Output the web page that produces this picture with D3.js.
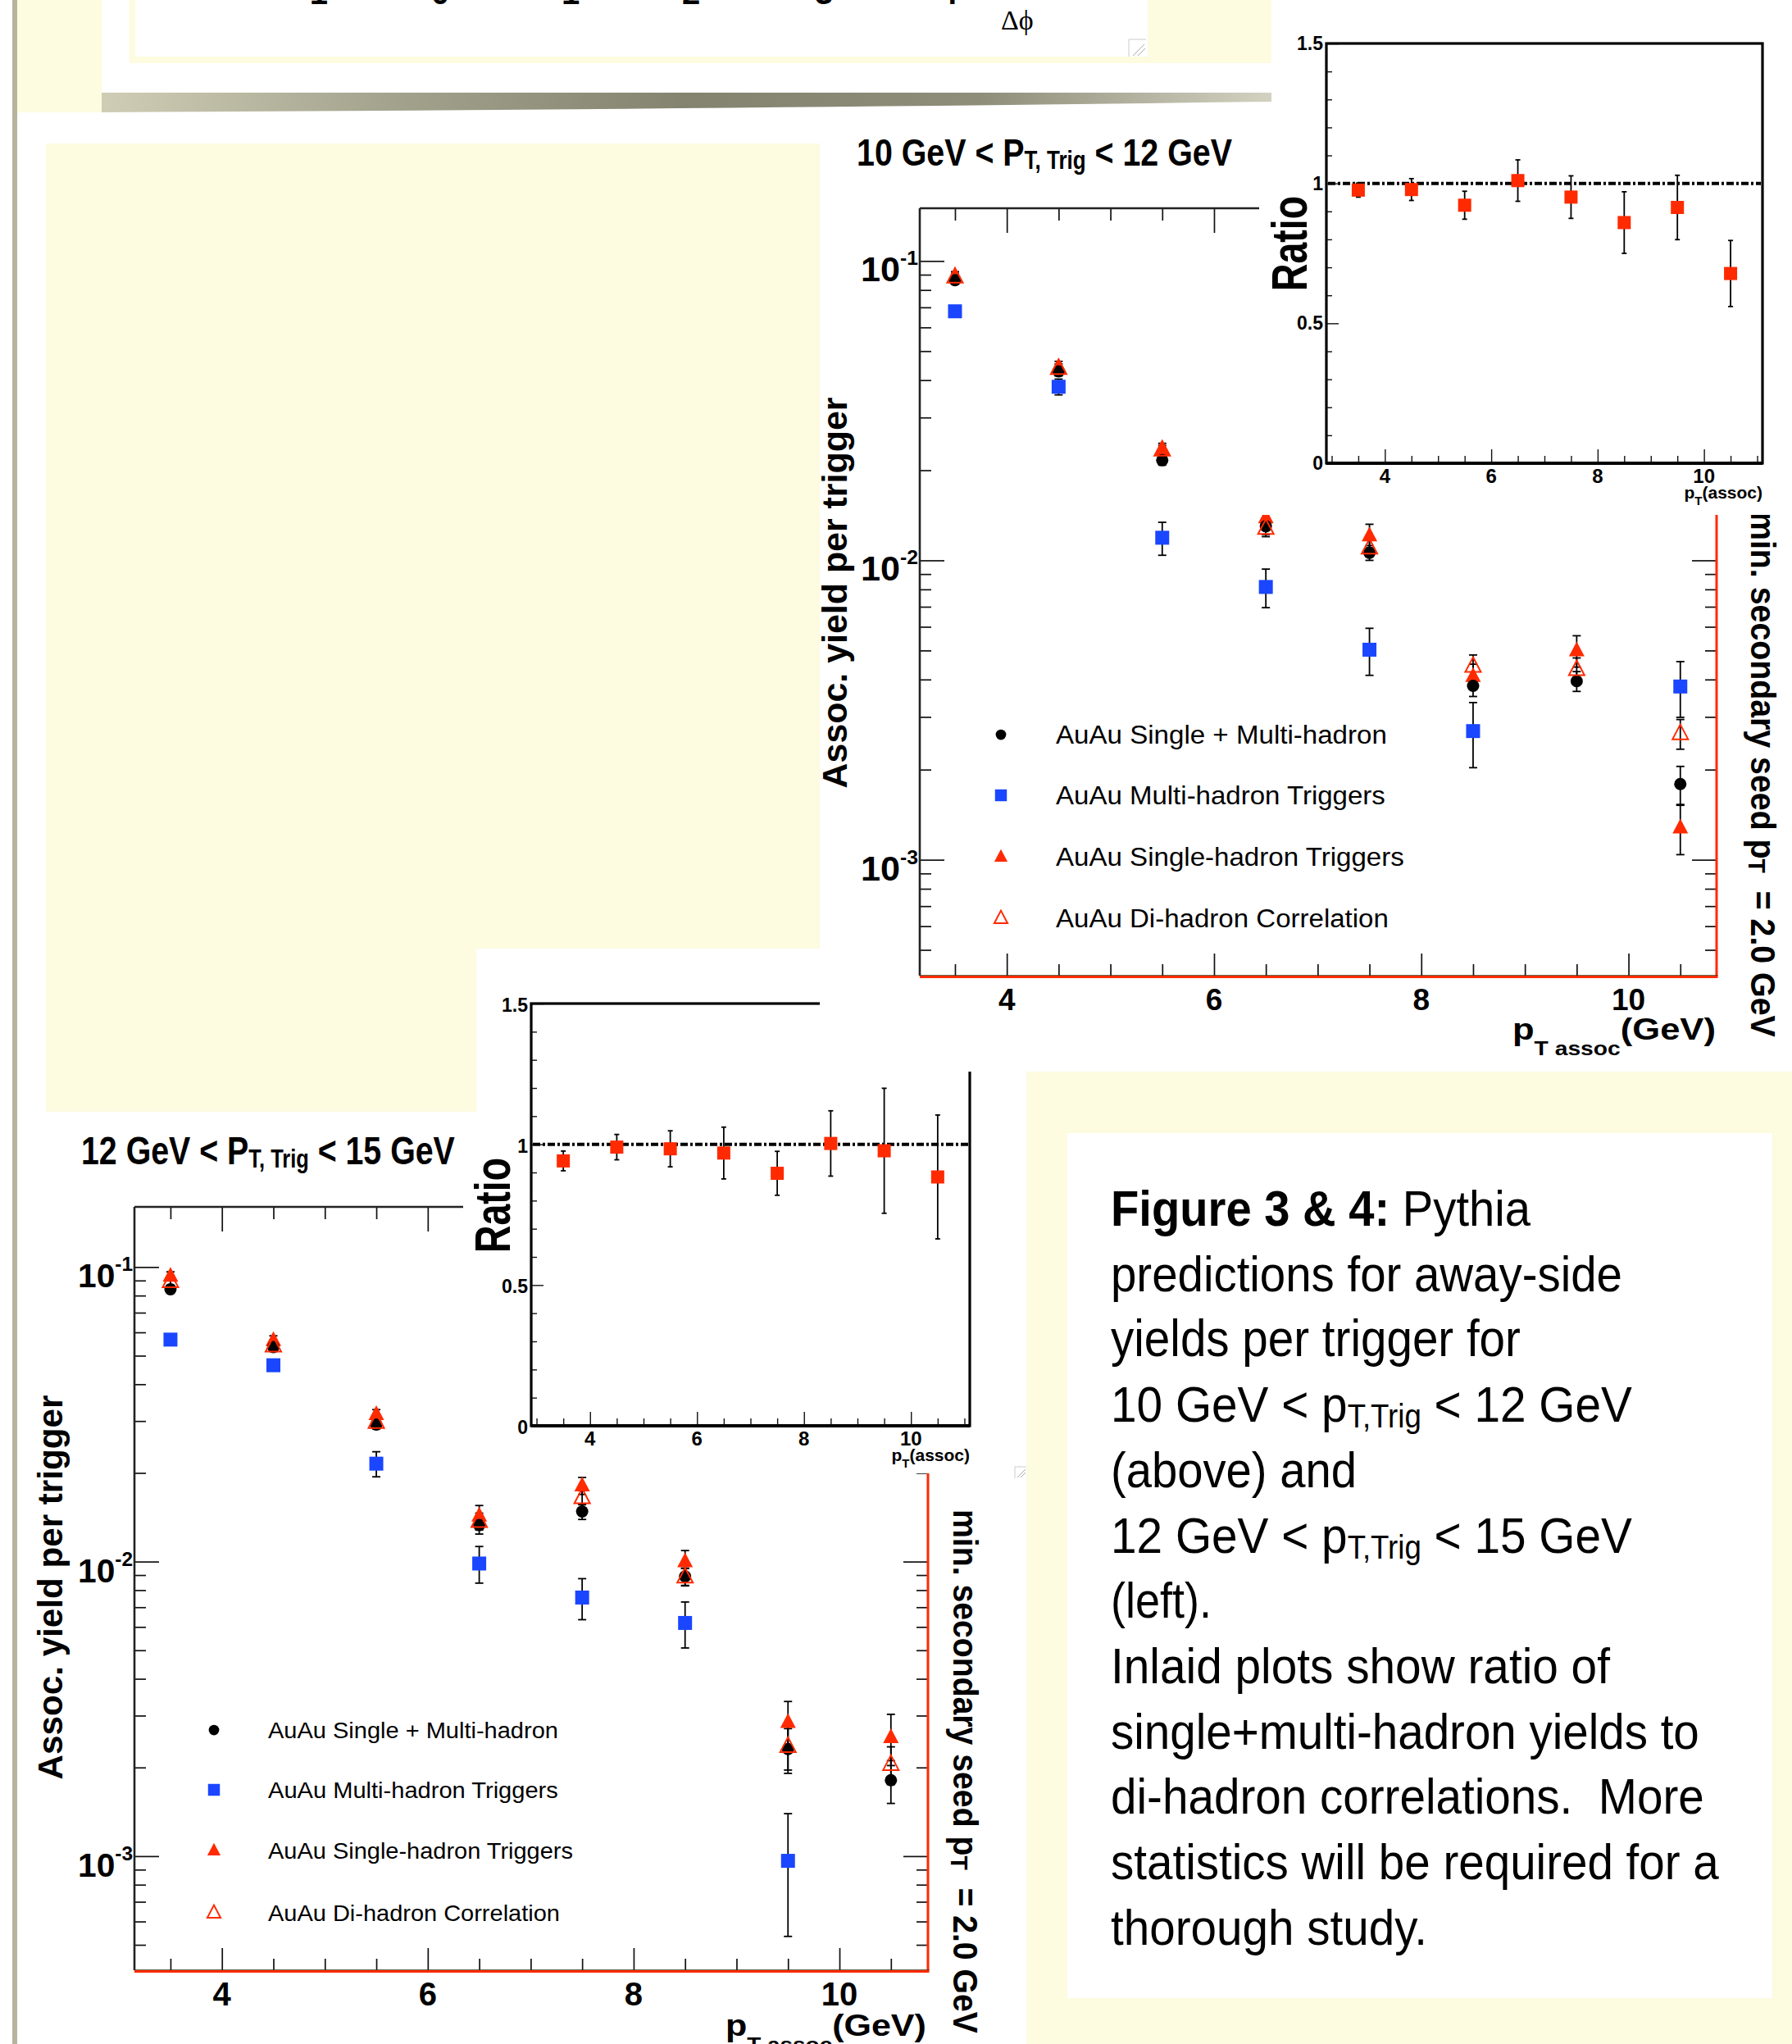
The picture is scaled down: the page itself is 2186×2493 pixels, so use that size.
<!DOCTYPE html>
<html><head><meta charset="utf-8">
<script src="https://cdn.jsdelivr.net/npm/d3@7"></script>
<style>body{margin:0;background:#fff} svg{display:block} text{white-space:pre}</style>
</head><body>
<svg id="c" width="2186" height="2493"></svg>
<script>
// ---------------- DATA ----------------
const ptAssoc = [3.5, 4.5, 5.5, 6.5, 7.5, 8.5, 9.5, 10.5];

// 10 GeV < pT,Trig < 12 GeV
const smYield10     = [0.0863, 0.0428, 0.0216, 0.0130, 0.0106, 0.00381, 0.00395, 0.00179];
const smErr10       = [0.0025, 0.0015, 0.0008, 0.0008, 0.0006, 0.0003, 0.0003, 0.00026];
const multiYield10  = [0.0679, 0.0380, 0.0119, 0.00815, 0.00503, 0.00269, null, 0.00379];
const multiErr10    = [0.0015, 0.0023, 0.0015, 0.0012, 0.0009, 0.00066, null, 0.0008];
const singleYield10 = [0.0891, 0.0442, 0.0235, 0.0139, 0.0121, 0.0041, 0.0050, 0.00128];
const singleErr10   = [0.003, 0.002, 0.0011, 0.0012, 0.0011, 0.0004, 0.0006, 0.00024];
const diYield10     = [0.0884, 0.0438, 0.0234, 0.0128, 0.0110, 0.00443, 0.00432, 0.00264];
const diErr10       = [0.0025, 0.0015, 0.0008, 0.0008, 0.0007, 0.0004, 0.0004, 0.0003];
const ratio10       = [0.976, 0.978, 0.922, 1.010, 0.951, 0.860, 0.914, 0.678];
const ratioErr10    = [0.025, 0.039, 0.050, 0.074, 0.076, 0.110, 0.115, 0.118];

// 12 GeV < pT,Trig < 15 GeV
const smYield12     = [0.0840, 0.0535, 0.0292, 0.0133, 0.0148, 0.0089, 0.00231, 0.00181];
const smErr12       = [0.0025, 0.0018, 0.0010, 0.0009, 0.0009, 0.0006, 0.0004, 0.0003];
const multiYield12  = [0.0567, 0.0464, 0.0215, 0.00985, 0.00755, 0.00619, 0.000964, null];
const multiErr12    = [0.0018, 0.0018, 0.0021, 0.0014, 0.0012, 0.0011, 0.00043, null];
const singleYield12 = [0.0933, 0.0564, 0.0316, 0.0143, 0.0181, 0.0100, 0.00285, 0.00253];
const singleErr12   = [0.003, 0.002, 0.0012, 0.0012, 0.0012, 0.0009, 0.0005, 0.0005];
const diYield12     = [0.0893, 0.0540, 0.0297, 0.0137, 0.0165, 0.00887, 0.00236, 0.00205];
const diErr12       = [0.0025, 0.0018, 0.0010, 0.0009, 0.0009, 0.0006, 0.0004, 0.0003];
const ratio12       = [0.941, 0.990, 0.984, 0.969, 0.897, 1.003, 0.977, 0.884];
const ratioErr12    = [0.035, 0.045, 0.064, 0.092, 0.078, 0.116, 0.222, 0.220];

const legendLabels = ['AuAu Single + Multi-hadron', 'AuAu Multi-hadron Triggers',
                      'AuAu Single-hadron Triggers', 'AuAu Di-hadron Correlation'];
const xTickValues = [4, 6, 8, 10];
const xTickLabels = ['4', '6', '8', '10'];
const yDecades = [1e-3, 1e-2, 1e-1];
const yDecadeExps = ['-3', '-2', '-1'];
const ratioTicks = [0, 0.5, 1, 1.5];
const ratioTickLabels = ['0', '0.5', '1', '1.5'];
const topAxisDigits = ['-1', '0', '1', '2', '3', '4'];

const captionLines = [
  [{t: 'Figure 3 & 4:', weight: 'bold'}, {t: ' Pythia', weight: 'normal'}],
  [{t: 'predictions for away-side'}],
  [{t: 'yields per trigger for'}],
  [{t: '10 GeV < p'}, {t: 'T,Trig', sub: true}, {t: ' < 12 GeV', unsub: true}],
  [{t: '(above) and'}],
  [{t: '12 GeV < p'}, {t: 'T,Trig', sub: true}, {t: ' < 15 GeV', unsub: true}],
  [{t: '(left).'}],
  [{t: 'Inlaid plots show ratio of'}],
  [{t: 'single+multi-hadron yields to'}],
  [{t: 'di-hadron correlations.  More'}],
  [{t: 'statistics will be required for a'}],
  [{t: 'thorough study.'}]
];

// ---------------- STYLE ----------------
const SANS = "'Liberation Sans', Arial, Helvetica, sans-serif";
const NARROW = "'Liberation Sans Narrow', 'Arial Narrow', 'Liberation Sans', Arial, sans-serif";
const SERIF = "'Liberation Serif', 'DejaVu Serif', serif";
const CREAM = '#fdfbe0';
const RED = '#ff2a00';
const BLUE = '#1a46ff';

const svg = d3.select('#c');
svg.append('rect').attr('width', 2186).attr('height', 2493).attr('fill', '#fff');

function txt(parent, o) {
  const g = parent.append('g').attr('transform', `translate(${o.x},${o.y}) rotate(${o.rot || 0})`);
  const t = g.append('text').attr('text-anchor', o.anchor || 'start')
    .attr('font-family', o.family || SANS).attr('font-size', o.size)
    .attr('font-weight', o.weight || 'bold').attr('fill', o.fill || '#000');
  const parts = typeof o.text === 'string' ? [{t: o.text}] : o.text;
  parts.forEach(p => {
    const s = t.append('tspan').text(p.t);
    if (p.size) s.attr('font-size', p.size);
    if (p.dy) s.attr('dy', p.dy);
    if (p.weight) s.attr('font-weight', p.weight);
    if (p.family) s.attr('font-family', p.family);
  });
  if (o.fit) {
    const w = t.node().getComputedTextLength();
    if (w > 0) t.attr('transform', `scale(${o.fit / w},1)`);
  }
  return t;
}

function marker(g, type, cx, cy, s) {
  s = s || 1;
  if (type === 'circle') {
    g.append('circle').attr('cx', cx).attr('cy', cy).attr('r', 7.5 * s).attr('fill', '#000');
  } else if (type === 'square') {
    g.append('rect').attr('x', cx - 8.5 * s).attr('y', cy - 8.5 * s).attr('width', 17 * s).attr('height', 17 * s).attr('fill', BLUE);
  } else if (type === 'tri') {
    g.append('path').attr('d', `M${cx},${cy - 11 * s}L${cx + 9.5 * s},${cy + 7 * s}L${cx - 9.5 * s},${cy + 7 * s}Z`).attr('fill', RED);
  } else if (type === 'otri') {
    g.append('path').attr('d', `M${cx},${cy - 11 * s}L${cx + 9.5 * s},${cy + 7 * s}L${cx - 9.5 * s},${cy + 7 * s}Z`)
      .attr('fill', 'none').attr('stroke', RED).attr('stroke-width', 2);
  }
}

function errBar(g, xp, ylo, yhi, cap) {
  g.append('line').attr('x1', xp).attr('x2', xp).attr('y1', ylo).attr('y2', yhi).attr('stroke', '#000').attr('stroke-width', 1.8);
  [ylo, yhi].forEach(yy => g.append('line').attr('x1', xp - cap).attr('x2', xp + cap).attr('y1', yy).attr('y2', yy)
    .attr('stroke', '#000').attr('stroke-width', 1.8));
}

const axisStyle = sel => {
  sel.select('.domain').remove();
  sel.selectAll('text').remove();
  sel.selectAll('line').attr('stroke', '#111').attr('stroke-width', 1.7);
};

// ---------------- MAIN PLOT ----------------
function drawMain(c) {
  const g = svg.append('g');
  const x = d3.scaleLinear().domain(c.xDomain).range(c.xRange);
  const y = d3.scaleLog().domain(c.yDomain).range(c.yRange);
  const [xl, xr] = c.xRange, [yb, yt] = c.yRange;
  const xMinor = d3.range(3.5, 11, 0.5).filter(v => v % 2 !== 0 && v > c.xDomain[0] && v < c.xDomain[1]);
  const yMinor = [];
  [-4, -3, -2, -1].forEach(e => d3.range(2, 10).forEach(k => {
    const v = k * Math.pow(10, e);
    if (v > c.yDomain[0] && v < c.yDomain[1]) yMinor.push(v);
  }));

  g.append('g').attr('transform', `translate(0,${yb})`).call(d3.axisBottom(x).tickValues(xTickValues).tickSize(-27).tickSizeOuter(0)).call(axisStyle);
  g.append('g').attr('transform', `translate(0,${yb})`).call(d3.axisBottom(x).tickValues(xMinor).tickSize(-14).tickSizeOuter(0)).call(axisStyle);
  g.append('g').attr('transform', `translate(0,${yt})`).call(d3.axisTop(x).tickValues(xTickValues.filter(v => x(v) < c.topEnd)).tickSize(-30).tickSizeOuter(0)).call(axisStyle);
  g.append('g').attr('transform', `translate(0,${yt})`).call(d3.axisTop(x).tickValues(xMinor.filter(v => x(v) < c.topEnd)).tickSize(-15).tickSizeOuter(0)).call(axisStyle);
  g.append('g').attr('transform', `translate(${xl},0)`).call(d3.axisLeft(y).tickValues(yDecades).tickSize(-30).tickSizeOuter(0)).call(axisStyle);
  g.append('g').attr('transform', `translate(${xl},0)`).call(d3.axisLeft(y).tickValues(yMinor).tickSize(-14).tickSizeOuter(0)).call(axisStyle);
  g.append('g').attr('transform', `translate(${xr},0)`).call(d3.axisRight(y).tickValues(yDecades).tickSize(-30).tickSizeOuter(0)).call(axisStyle);
  g.append('g').attr('transform', `translate(${xr},0)`).call(d3.axisRight(y).tickValues(yMinor).tickSize(-14).tickSizeOuter(0)).call(axisStyle);

  // frame
  g.append('line').attr('x1', xl).attr('x2', xl).attr('y1', yt).attr('y2', yb).attr('stroke', '#222').attr('stroke-width', 2.6);
  g.append('line').attr('x1', xl).attr('x2', c.topEnd).attr('y1', yt).attr('y2', yt).attr('stroke', '#222').attr('stroke-width', 2.6);
  g.append('line').attr('x1', xr).attr('x2', xr).attr('y1', yt).attr('y2', yb).attr('stroke', RED).attr('stroke-width', 3);
  g.append('line').attr('x1', xl).attr('x2', xr + 1.5).attr('y1', yb).attr('y2', yb).attr('stroke', '#331').attr('stroke-width', 1.5);
  g.append('line').attr('x1', xl).attr('x2', xr + 1.5).attr('y1', yb + 1.5).attr('y2', yb + 1.5).attr('stroke', RED).attr('stroke-width', 3.2);

  const series = [
    {type: 'square', v: c.multi, e: c.multiErr},
    {type: 'tri', v: c.single, e: c.singleErr},
    {type: 'circle', v: c.sm, e: c.smErr},
    {type: 'otri', v: c.di, e: c.diErr}
  ];
  const dg = g.append('g');
  series.forEach(s => s.v.forEach((v, i) => {
    if (v == null) return;
    const lo = Math.max(v - s.e[i], c.yDomain[0]);
    errBar(dg, x(ptAssoc[i]), y(lo), y(v + s.e[i]), 5);
  }));
  series.forEach(s => s.v.forEach((v, i) => {
    if (v == null) return;
    marker(dg, s.type, x(ptAssoc[i]), y(v));
  }));

  // tick labels
  xTickValues.forEach((v, i) => txt(g, {x: x(v), y: c.xTickBase, text: xTickLabels[i], anchor: 'middle', size: c.xTickSize}));
  yDecades.forEach((v, i) => txt(g, {x: xl - 2, y: y(v) + 25, anchor: 'end', size: c.yTickSize,
    text: [{t: '10'}, {t: yDecadeExps[i], size: 24, dy: -20}], fit: c.yTickW}));

  // titles / labels
  txt(g, {x: c.title.x, y: c.title.y, size: c.title.size, fit: c.title.w,
    text: [{t: c.title.a}, {t: 'T, Trig', size: c.title.sub, dy: 4}, {t: c.title.b, dy: -4}]});
  txt(g, {x: c.ylab.x, y: c.ylab.y, rot: -90, anchor: 'middle', size: c.ylab.size, fit: c.ylab.len,
    text: 'Assoc. yield per trigger'});
  txt(g, {x: c.xlab.x, y: c.xlab.y, size: c.xlab.size, fit: c.xlab.w,
    text: [{t: 'p'}, {t: 'T assoc', size: c.xlab.sub, dy: 19}, {t: '(GeV)', dy: -19}]});
  txt(g, {x: c.rlab.x, y: c.rlab.y, rot: 90, size: c.rlab.size, fit: c.rlab.len,
    text: [{t: 'min. secondary seed p'}, {t: 'T', size: c.rlab.size * 0.72, dy: 3}, {t: '  = 2.0 GeV', dy: -3}]});

  // legend
  const types = ['circle', 'square', 'tri', 'otri'];
  const lg = g.append('g');
  legendLabels.forEach((lab, i) => {
    const ry = c.legend.rows[i];
    marker(lg, types[i], c.legend.mx, ry, 0.85);
    txt(lg, {x: c.legend.tx, y: ry + c.legend.size * 0.36, text: lab, size: c.legend.size, weight: 'normal',
      family: NARROW, fit: c.legend.widths[i]});
  });
}

// ---------------- RATIO INSET ----------------
function drawRatio(c) {
  const g = svg.append('g');
  const x = d3.scaleLinear().domain([2.9, 11.1]).range(c.xRange);
  const y = d3.scaleLinear().domain([0, 1.5]).range(c.yRange);
  const [xl, xr] = c.xRange, [yb, yt] = c.yRange;
  const xMinor = d3.range(3, 11.01, 0.5).filter(v => xTickValues.indexOf(v) < 0);
  const yMinor = d3.range(1, 15).map(k => k / 10).filter(v => Math.abs(v * 2 - Math.round(v * 2)) > 1e-6);

  g.append('g').attr('transform', `translate(0,${yb})`).call(d3.axisBottom(x).tickValues(xTickValues).tickSize(-17).tickSizeOuter(0)).call(axisStyle);
  g.append('g').attr('transform', `translate(0,${yb})`).call(d3.axisBottom(x).tickValues(xMinor).tickSize(-9).tickSizeOuter(0)).call(axisStyle);
  g.append('g').attr('transform', `translate(${xl},0)`).call(d3.axisLeft(y).tickValues(ratioTicks).tickSize(-15).tickSizeOuter(0)).call(axisStyle);
  g.append('g').attr('transform', `translate(${xl},0)`).call(d3.axisLeft(y).tickValues(yMinor).tickSize(-7).tickSizeOuter(0)).call(axisStyle);
  g.selectAll('line').attr('stroke-width', 1.4);

  g.append('rect').attr('x', xl).attr('y', yt).attr('width', xr - xl).attr('height', yb - yt)
    .attr('fill', 'none').attr('stroke', '#000').attr('stroke-width', 3.2);
  g.append('line').attr('x1', xl).attr('x2', xr).attr('y1', yb).attr('y2', yb).attr('stroke', '#000').attr('stroke-width', 4.2);

  g.append('line').attr('x1', xl + 2).attr('x2', xr - 2).attr('y1', y(1)).attr('y2', y(1))
    .attr('stroke', '#000').attr('stroke-width', 4).attr('stroke-dasharray', '9,3,3,3');

  c.ratio.forEach((v, i) => errBar(g, x(ptAssoc[i]), y(v - c.err[i]), y(v + c.err[i]), 3));
  c.ratio.forEach((v, i) => g.append('rect').attr('x', x(ptAssoc[i]) - 8).attr('y', y(v) - 8)
    .attr('width', 16).attr('height', 16).attr('fill', RED));

  ratioTicks.forEach((v, i) => txt(g, {x: xl - 4, y: y(v) + c.yLabOff, anchor: 'end', size: 23, text: ratioTickLabels[i]}));
  xTickValues.forEach((v, i) => txt(g, {x: x(v), y: c.xLabBase, anchor: 'middle', size: 24, text: xTickLabels[i]}));
  txt(g, {x: xr, y: c.pBase, anchor: 'end', size: 21,
    text: [{t: 'p'}, {t: 'T', size: 15, dy: 8}, {t: '(assoc)', dy: -8}]});
  txt(g, {x: c.ratioLab.x, y: c.ratioLab.y, rot: -90, anchor: 'middle', size: 62, fit: 116, text: 'Ratio'});
}

// ---------------- BACKGROUND PIECES ----------------
svg.append('rect').attr('x', 15).attr('y', 0).attr('width', 6).attr('height', 2493).attr('fill', '#b7b39d');
svg.append('rect').attr('x', 21).attr('y', 0).attr('width', 103).attr('height', 137).attr('fill', CREAM);
// big cream panel
svg.append('rect').attr('x', 56).attr('y', 175).attr('width', 944).attr('height', 1181).attr('fill', CREAM);

// lower main plot (12-15 GeV)
drawMain({
  xDomain: [3.15, 10.86], xRange: [164, 1132], yDomain: [4.1e-4, 0.16], yRange: [2403, 1472],
  topEnd: 565,
  sm: smYield12, smErr: smErr12, multi: multiYield12, multiErr: multiErr12,
  single: singleYield12, singleErr: singleErr12, di: diYield12, diErr: diErr12,
  xTickSize: 40, xTickBase: 2446, yTickSize: 40, yTickW: 67,
  title: {x: 99, y: 1420, size: 48, sub: 31, w: 456, a: '12 GeV < P', b: ' < 15 GeV'},
  ylab: {x: 76, y: 1936, size: 42, len: 469},
  xlab: {x: 885, y: 2483, size: 37, sub: 24, w: 245},
  rlab: {x: 1163, y: 1841, size: 42, len: 639},
  legend: {mx: 261, tx: 327, rows: [2110, 2183, 2257, 2333], widths: [354, 354, 372, 356], size: 27}
});

// lower ratio inset
svg.append('rect').attr('x', 581).attr('y', 1157).attr('width', 669).attr('height', 640).attr('fill', '#fff');
drawRatio({xRange: [648, 1183], yRange: [1739, 1224], ratio: ratio12, err: ratioErr12,
  yLabOff: 10, xLabBase: 1763, pBase: 1782, ratioLab: {x: 622, y: 1470}});
// resize handle
svg.append('path').attr('d', 'M1238,1803L1238,1789L1252,1789').attr('fill', 'none').attr('stroke', '#ccc').attr('stroke-width', 1);
svg.append('path').attr('d', 'M1241,1802L1251,1792M1245,1802L1251,1796').attr('stroke', '#aaa').attr('stroke-width', 1);

// top-right main plot (10-12 GeV)
svg.append('rect').attr('x', 1000).attr('y', 140).attr('width', 1186).attr('height', 1167).attr('fill', '#fff');
drawMain({
  xDomain: [3.16, 10.85], xRange: [1122, 2094], yDomain: [4.1e-4, 0.15], yRange: [1190, 254],
  topEnd: 1536,
  sm: smYield10, smErr: smErr10, multi: multiYield10, multiErr: multiErr10,
  single: singleYield10, singleErr: singleErr10, di: diYield10, diErr: diErr10,
  xTickSize: 37, xTickBase: 1232, yTickSize: 42, yTickW: 70,
  title: {x: 1045, y: 202, size: 47, sub: 31, w: 458, a: '10 GeV < P', b: ' < 12 GeV'},
  ylab: {x: 1033, y: 723, size: 42, len: 477},
  xlab: {x: 1845, y: 1268, size: 37, sub: 24, w: 248},
  rlab: {x: 2136, y: 624, size: 42, len: 641},
  legend: {mx: 1221, tx: 1288, rows: [896, 970, 1045, 1120], widths: [404, 402, 425, 406], size: 31}
});

// top-right ratio inset
svg.append('rect').attr('x', 1537).attr('y', 0).attr('width', 649).attr('height', 628).attr('fill', '#fff');
drawRatio({xRange: [1618, 2150], yRange: [565, 53], ratio: ratio10, err: ratioErr10,
  yLabOff: 8, xLabBase: 589, pBase: 608, ratioLab: {x: 1594, y: 297}});

// top slide box with shadow
const defs = svg.append('defs');
const grad = defs.append('linearGradient').attr('id', 'shadow').attr('x1', '0%').attr('x2', '100%');
[[0, '#cfcdb5'], [0.25, '#a3a28d'], [0.5, '#84836f'], [0.75, '#8e8d7a'], [1, '#d3d2c0']]
  .forEach(([o, col]) => grad.append('stop').attr('offset', o).attr('stop-color', col));
svg.append('rect').attr('x', 124).attr('y', 0).attr('width', 1427).attr('height', 113).attr('fill', '#fff');
svg.append('path').attr('d', 'M124,113L1551,113L1551,124Q900,133 124,137Z').attr('fill', 'url(#shadow)');
svg.append('rect').attr('x', 158).attr('y', 0).attr('width', 1393).attr('height', 77).attr('fill', CREAM);
svg.append('rect').attr('x', 165).attr('y', 0).attr('width', 1235).attr('height', 69).attr('fill', '#fff');
const dphiX = [400, 537, 696, 843, 1005, 1157];
topAxisDigits.forEach((d, i) => txt(svg, {x: dphiX[i], y: 5, text: d, size: 40, anchor: i === 0 ? 'end' : 'middle'}));
txt(svg, {x: 1221, y: 36, text: 'Δϕ', size: 34, weight: 'normal', family: SERIF});
svg.append('path').attr('d', 'M1377,69L1377,48L1398,48').attr('fill', 'none').attr('stroke', '#ccc').attr('stroke-width', 1);
svg.append('path').attr('d', 'M1382,68L1396,54M1388,68L1397,59').attr('stroke', '#aaa').attr('stroke-width', 1);

// caption box
svg.append('rect').attr('x', 1252).attr('y', 1307).attr('width', 934).attr('height', 1186).attr('fill', CREAM);
svg.append('rect').attr('x', 1302).attr('y', 1382).attr('width', 860).attr('height', 1055).attr('fill', '#fff');
const captionWidths = [512, 624, 500, 636, 300, 636, 123, 609, 718, 724, 742, 386];
captionLines.forEach((parts, i) => {
  const p = parts.map(q => {
    if (q.sub) return {t: q.t, size: 40, dy: 7};
    if (q.unsub) return {t: q.t, dy: -7};
    return q;
  });
  txt(svg, {x: 1355, y: 1495 + i * 79.7, text: p, size: 62, weight: 'normal', fit: captionWidths[i]});
});
</script>
</body></html>
